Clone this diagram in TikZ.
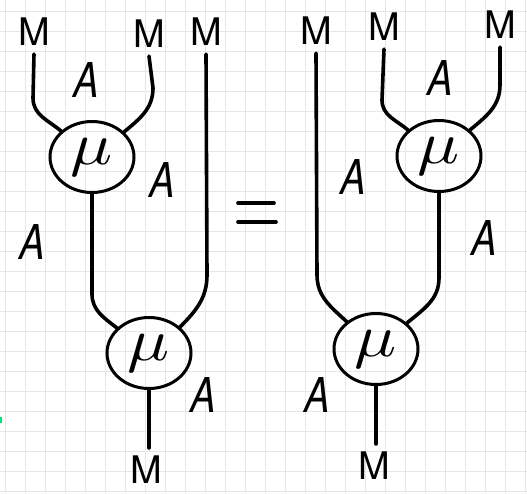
\documentclass[tikz,border=0pt]{standalone}
\usepackage{graphicx}
\usepackage{fontspec}
\newfontfamily\handfont{TeX Gyre Heros}
\usetikzlibrary{shapes.geometric}
\definecolor{gridgray}{RGB}{230,230,230}
\definecolor{markgreen}{RGB}{0,230,118}

\begin{document}
\begin{tikzpicture}[x=1pt,y=1pt]
        \tikzset{wire/.style={line width=3.6pt, line cap=round, line join=round},
                 mult/.style={ellipse, draw, line width=3pt, minimum width=84pt, minimum height=71pt, inner sep=0pt},
                 objM/.style={font=\handfont\fontsize{38}{38}\selectfont, inner sep=8pt},
                 objA/.style={font=\handfont\itshape\fontsize{48}{48}\selectfont, inner sep=0pt}}
        \useasboundingbox (0,0) rectangle (527,-493);
        \fill[white] (0,0) rectangle (527,-493);
        % squared paper
        \foreach \gx in {0,...,26} \draw[gridgray, line width=1pt] ({5.9+20*\gx},0) -- ++(0,-493);
        \foreach \gy in {0,...,24} \draw[gridgray, line width=1pt] (0,{-11.7-20*\gy}) -- ++(527,0);
        \fill[markgreen] (0,-417) rectangle (2,-423);

        % left side: (M A) M
        \node[objM] (ml1) at (34,-32) {M};
        \node[objM] (ml2) at (149,-34) {M};
        \node[objM] (ml3) at (206,-32) {M};
        \node[objM] (mlb) at (146,-470) {M};
        \node[mult] (mul1) at (92,-157) {\scalebox{7}[6]{$\mu$}};
        \node[mult] (mul2) at (149,-353) {\scalebox{7}[6]{$\mu$}};
        \node[objA] (al1) at (86,-80) {\scalebox{0.8}[1]{A}};
        \node[objA] (al2) at (162,-180) {\scalebox{0.8}[1]{A}};
        \node[objA] (al3) at (32,-242) {\scalebox{0.8}[1]{A}};
        \node[objA] (al4) at (203,-395) {\scalebox{0.8}[1]{A}};

        \draw[wire] (ml1.south) -- (33,-98) to[out=-90,in=140] (mul1.140);
        \draw[wire] (ml2.south) -- (153,-88) to[out=-90,in=40] (mul1.38);
        \draw[wire] (mul1.south) -- ++(0,-100) to[out=-90,in=142] (mul2.142);
        \draw[wire] (ml3.south) -- (207,-275) to[out=-90,in=45] (mul2.40);
        \draw[wire] (mul2.south) -- (mul2.south |- mlb.north);

        % equals sign
        \draw[wire] (238,-203) -- (274,-203);
        \draw[wire] (238,-222) -- (276,-222);

        % right side: M (A M)
        \node[objM] (mr1) at (316,-31) {M};
        \node[objM] (mr2) at (384,-27) {M};
        \node[objM] (mr3) at (500,-25) {M};
        \node[objM] (mrb) at (374,-466) {M};
        \node[mult] (mur1) at (439,-156) {\scalebox{7}[6]{$\mu$}};
        \node[mult] (mur2) at (376,-349) {\scalebox{7}[6]{$\mu$}};
        \node[objA] (ar1) at (440,-78) {\scalebox{0.8}[1]{A}};
        \node[objA] (ar2) at (353,-177) {\scalebox{0.8}[1]{A}};
        \node[objA] (ar3) at (484,-238) {\scalebox{0.8}[1]{A}};
        \node[objA] (ar4) at (317,-395) {\scalebox{0.8}[1]{A}};

        \draw[wire] (mr1.south) -- (317,-275) to[out=-90,in=137] (mur2.137);
        \draw[wire] (mr2.south) -- (382,-100) to[out=-90,in=140] (mur1.140);
        \draw[wire] (mr3.south) -- (500,-85) to[out=-90,in=40] (mur1.40);
        \draw[wire] (mur1.south) -- ++(0,-85) to[out=-90,in=40] (mur2.40);
        \draw[wire] (mur2.south) -- (mur2.south |- mrb.north);
\end{tikzpicture}
\end{document}
